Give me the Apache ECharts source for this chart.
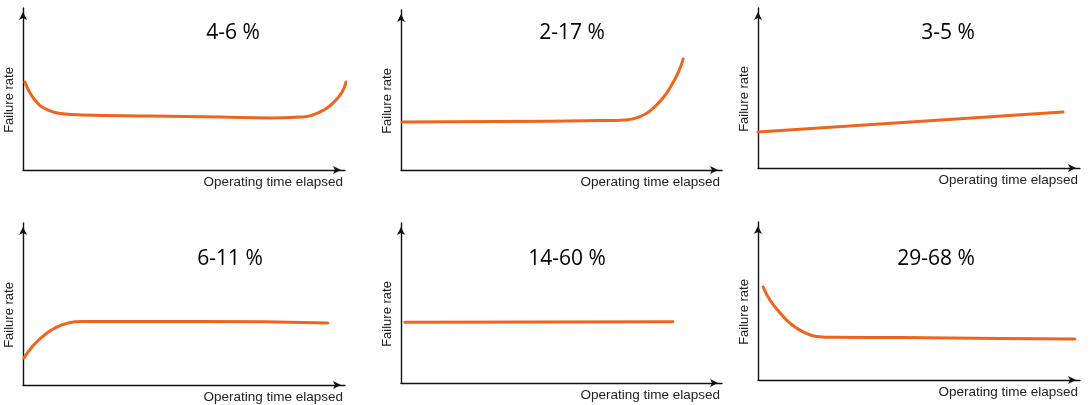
<!DOCTYPE html>
<html>
<head>
<meta charset="utf-8">
<title>Failure rate patterns</title>
<script src="https://cdn.jsdelivr.net/npm/echarts@6/dist/echarts.min.js"></script>
<style>
  html, body { margin: 0; padding: 0; background: #fff; }
  #chart { width: 1090px; height: 405px; }
</style>
</head>
<body>
<div id="chart"></div>
<script>
// Share of components following each failure pattern
const panelTitles = ['4-6 %', '2-17 %', '3-5 %', '6-11 %', '14-60 %', '29-68 %'];
const xAxisLabel = 'Operating time elapsed';
const yAxisLabel = 'Failure rate';

// Failure-rate curves: [time, rate] on a 0-100 scale for both axes
const bathtubCurve = [
  [0.6, 54.3], [3.7, 43.2], [7.8, 37.0], [13.0, 34.6], [18.3, 34.0],
  [39.4, 33.3], [61.2, 32.7], [76.7, 32.1], [86.0, 32.7], [92.2, 35.8],
  [96.3, 41.4], [99.1, 48.1], [100.3, 54.3]
];
const wearOutCurve = [
  [0.3, 30.0], [30.8, 30.3], [62.0, 30.9], [70.0, 31.3], [74.5, 33.4],
  [77.6, 37.0], [81.6, 45.0], [84.7, 54.5], [86.9, 63.5], [87.9, 69.4]
];
const risingCurve = [
  [0.0, 22.5], [94.7, 35.0]
];
const breakInCurve = [
  [0.3, 16.7], [2.8, 23.5], [5.9, 29.6], [9.9, 35.2], [14.0, 38.3],
  [18.3, 39.2], [55.0, 39.2], [94.7, 38.3]
];
const randomCurve = [
  [1.2, 37.9], [84.7, 38.3]
];
const infantCurve = [
  [1.6, 58.9], [3.7, 50.6], [6.8, 42.6], [9.9, 36.0], [14.0, 30.5],
  [18.3, 27.6], [24.0, 27.0], [44.1, 26.9], [75.2, 26.3], [98.4, 25.9]
];
const curves = [bathtubCurve, wearOutCurve, risingCurve, breakInCurve, randomCurve, infantCurve];

// Panel placement (pixels): axis origin at left/bottom, arrow tips at right/top
const panelBoxes = [
  { left: 23,  top: 8,   width: 322, height: 162 },
  { left: 401, top: 10,  width: 321, height: 160 },
  { left: 758, top: 8,   width: 322, height: 160 },
  { left: 23,  top: 223, width: 322, height: 162 },
  { left: 401, top: 223, width: 321, height: 160 },
  { left: 758, top: 222, width: 322, height: 158 }
];
const titleCenters = [
  [233, 23], [572, 23], [948, 23],
  [230, 249], [567, 249], [936, 249]
];

const lineColor = '#F0641E';
const axisColor = '#111';
const labelFont = 'Liberation Sans, Arial, sans-serif';

const grid = [], xAxis = [], yAxis = [], series = [], title = [];

panelBoxes.forEach((box, i) => {
  grid.push(Object.assign({ containLabel: false }, box));

  const axisLine = {
    show: true,
    onZero: false,
    symbol: ['none', 'arrow'],
    symbolSize: [6, 8],
    symbolOffset: [0, -4],
    lineStyle: { color: axisColor, width: 1.4 }
  };

  xAxis.push({
    type: 'value', gridIndex: i, min: 0, max: 100,
    axisLine: axisLine,
    axisTick: { show: false }, axisLabel: { show: false }, splitLine: { show: false },
    name: xAxisLabel,
    nameLocation: 'end',
    nameGap: -2,
    nameTextStyle: {
      fontFamily: labelFont, fontSize: 13.5, color: '#222',
      align: 'right', verticalAlign: 'top', padding: [5, 0, 0, 0]
    }
  });

  yAxis.push({
    type: 'value', gridIndex: i, min: 0, max: 100,
    axisLine: axisLine,
    axisTick: { show: false }, axisLabel: { show: false }, splitLine: { show: false },
    name: yAxisLabel,
    nameLocation: 'middle',
    nameRotate: 90,
    nameGap: 7,
    nameTextStyle: {
      fontFamily: labelFont, fontSize: 13, color: '#222',
      padding: [0, 22, 0, 0]
    }
  });

  series.push({
    type: 'line', xAxisIndex: i, yAxisIndex: i,
    data: curves[i],
    smooth: 0.5,
    showSymbol: false,
    clip: false,
    silent: true,
    lineStyle: { color: lineColor, width: 3, cap: 'round', join: 'round' }
  });

  title.push({
    text: panelTitles[i],
    left: titleCenters[i][0],
    top: titleCenters[i][1],
    textAlign: 'center',
    padding: 0,
    textStyle: { fontFamily: 'Open Sans', fontSize: 21, fontWeight: 'normal', color: '#000' }
  });
});

const chart = echarts.init(document.getElementById('chart'), null, { renderer: 'canvas' });
chart.setOption({
  animation: false,
  backgroundColor: '#fff',
  title: title,
  grid: grid,
  xAxis: xAxis,
  yAxis: yAxis,
  series: series
});
</script>
</body>
</html>
